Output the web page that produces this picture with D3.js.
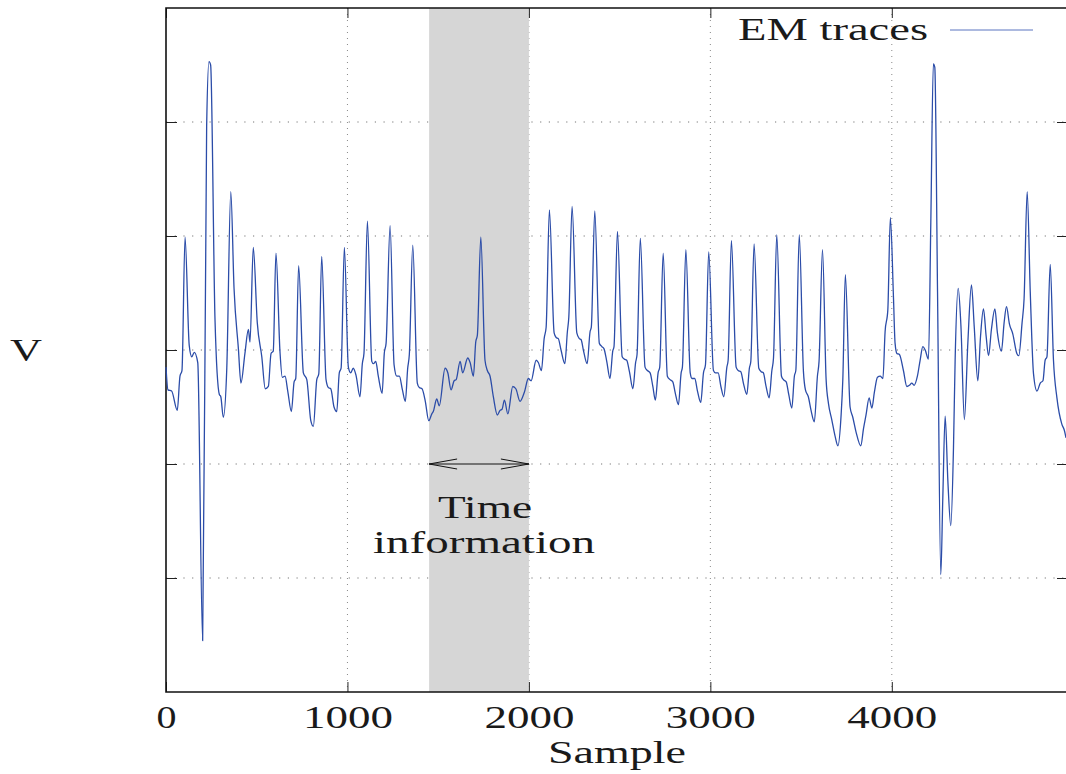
<!DOCTYPE html>
<html>
<head>
<meta charset="utf-8">
<script src="https://cdn.jsdelivr.net/npm/d3@7"></script>
<style>
  body { margin: 0; background: #fff; }
  text { font-family: "Liberation Serif", "Times New Roman", serif; fill: #1a1a1a; }
</style>
</head>
<body>
<script>
// trace samples (sample index, volts)
const sample = [
  0, 11, 31, 62, 77, 88, 105, 128, 142, 156, 175, 202, 224, 237, 246, 270, 294, 302, 316, 335,
  357, 375, 399, 413, 435, 454, 463, 481, 503, 528, 547, 564, 579, 591, 606, 628, 641, 656, 671, 691,
  706, 715, 731, 757, 776, 798, 812, 831, 842, 858, 882, 895, 908, 926, 941, 955, 965, 983, 1005, 1018,
  1032, 1047, 1069, 1082, 1091, 1110, 1134, 1143, 1156, 1170, 1191, 1203, 1213, 1235, 1257, 1272, 1286, 1303, 1319, 1332,
  1341, 1360, 1385, 1396, 1411, 1429, 1448, 1465, 1473, 1492, 1506, 1538, 1553, 1571, 1588, 1599, 1621, 1635, 1663, 1676,
  1694, 1707, 1716, 1735, 1758, 1771, 1786, 1804, 1826, 1841, 1852, 1865, 1884, 1911, 1928, 1951, 1975, 1997, 2012, 2040,
  2052, 2069, 2084, 2095, 2113, 2139, 2150, 2162, 2177, 2198, 2212, 2220, 2238, 2264, 2278, 2288, 2300, 2321, 2337, 2344,
  2363, 2388, 2402, 2414, 2429, 2447, 2462, 2469, 2488, 2514, 2526, 2539, 2554, 2573, 2588, 2596, 2614, 2640, 2653, 2668,
  2683, 2697, 2712, 2721, 2740, 2763, 2778, 2793, 2807, 2824, 2839, 2846, 2865, 2889, 2899, 2914, 2929, 2947, 2962, 2973,
  2991, 3017, 3028, 3043, 3058, 3074, 3091, 3098, 3116, 3142, 3153, 3168, 3182, 3201, 3215, 3223, 3241, 3267, 3280, 3292,
  3307, 3324, 3339, 3348, 3366, 3392, 3403, 3418, 3432, 3449, 3463, 3471, 3490, 3513, 3524, 3540, 3555, 3573, 3590, 3599,
  3618, 3638, 3651, 3669, 3688, 3703, 3721, 3730, 3744, 3770, 3785, 3803, 3829, 3844, 3858, 3875, 3890, 3904, 3921, 3936,
  3951, 3963, 3978, 3992, 4009, 4018, 4028, 4042, 4064, 4083, 4097, 4110, 4123, 4141, 4156, 4171, 4184, 4202, 4215, 4229,
  4237, 4252, 4270, 4281, 4294, 4309, 4325, 4340, 4349, 4366, 4381, 4400, 4419, 4439, 4454, 4474, 4489, 4505, 4520, 4533,
  4549, 4568, 4582, 4604, 4619, 4632, 4648, 4667, 4689, 4700, 4718, 4729, 4746, 4763, 4781, 4800, 4818, 4833, 4845, 4855,
  4873, 4891, 4910, 4937, 4950, 4960
];
const volts = [
  -0.15, -0.35, -0.36, -0.53, -0.23, -0.18, 0.99, 0.04, -0.06, -0.02, -0.11, -2.55, 1.96, 2.53, 2.50, 0.27, -0.39, -0.41, -0.59, -0.16,
  1.39, 0.54, 0.01, -0.29, -0.03, 0.18, 0.07, 0.90, 0.24, -0.06, -0.34, -0.32, -0.03, -0.01, 0.85, -0.01, -0.24, -0.23, -0.36, -0.54,
  -0.28, -0.25, 0.74, -0.20, -0.26, -0.62, -0.67, -0.26, -0.21, 0.82, -0.26, -0.33, -0.34, -0.50, -0.54, -0.20, -0.16, 0.90, -0.15, -0.20,
  -0.16, -0.22, -0.41, -0.12, -0.03, 1.13, -0.10, -0.12, -0.10, -0.23, -0.38, -0.03, 0.06, 1.09, -0.13, -0.23, -0.23, -0.35, -0.45, -0.16,
  -0.04, 0.92, -0.29, -0.33, -0.34, -0.45, -0.62, -0.56, -0.54, -0.43, -0.49, -0.16, -0.20, -0.35, -0.27, -0.26, -0.10, -0.20, -0.07, -0.11,
  -0.23, 0.07, 0.13, 0.99, -0.09, -0.18, -0.23, -0.41, -0.57, -0.53, -0.52, -0.44, -0.56, -0.32, -0.34, -0.45, -0.37, -0.25, -0.27, -0.09,
  -0.11, -0.18, 0.10, 0.20, 1.23, 0.15, 0.11, 0.10, 0.00, -0.12, 0.16, 0.29, 1.26, 0.15, 0.10, 0.09, 0.00, -0.12, 0.16, 0.20,
  1.22, 0.06, 0.03, 0.01, -0.10, -0.25, -0.01, 0.03, 1.04, -0.06, -0.08, -0.09, -0.19, -0.34, -0.11, -0.04, 0.98, -0.15, -0.18, -0.20,
  -0.32, -0.44, -0.20, -0.15, 0.85, -0.23, -0.26, -0.28, -0.38, -0.48, -0.20, -0.15, 0.88, -0.20, -0.25, -0.25, -0.36, -0.46, -0.20, -0.13,
  0.86, -0.18, -0.20, -0.20, -0.32, -0.41, -0.15, -0.09, 0.96, -0.15, -0.18, -0.19, -0.29, -0.39, -0.16, -0.10, 0.93, -0.16, -0.19, -0.20,
  -0.32, -0.42, -0.18, -0.07, 1.01, -0.23, -0.26, -0.28, -0.39, -0.51, -0.23, -0.18, 1.01, -0.19, -0.35, -0.41, -0.53, -0.63, -0.23, -0.10,
  0.88, -0.26, -0.47, -0.61, -0.76, -0.84, -0.56, -0.26, 0.66, -0.50, -0.59, -0.72, -0.84, -0.69, -0.57, -0.42, -0.51, -0.37, -0.24, -0.23,
  -0.25, 0.16, 0.35, 1.16, 0.47, 0.06, -0.03, -0.04, -0.18, -0.32, -0.31, -0.29, -0.31, -0.23, -0.09, 0.03, 0.00, -0.08, 1.12, 2.51,
  2.48, 0.51, -1.97, -1.30, -0.58, -1.15, -1.54, -0.85, -0.09, 0.54, 0.21, -0.61, 0.06, 0.57, 0.21, -0.27, 0.12, 0.36, 0.12, -0.05,
  0.18, 0.36, 0.15, -0.01, 0.24, 0.38, 0.23, 0.14, -0.03, -0.05, 0.24, 0.45, 1.39, 0.51, -0.21, -0.36, -0.29, -0.27, -0.09, -0.06,
  0.75, -0.09, -0.42, -0.65, -0.70, -0.77
];
const xTicks = [0, 1000, 2000, 3000, 4000];
const yTicks = [-2, -1, 0, 1, 2];
const timeWindow = [1450, 2000];
const seriesName = "EM traces";

// plot frame
let margin = {top: 8, right: 0, bottom: 82, left: 166};
let width = 1066 - margin.left - margin.right;
let height = 774 - margin.top - margin.bottom;

let svg = d3.select("body")
  .append("svg")
  .attr("width", 1066)
  .attr("height", 774);

let g = svg.append("g")
  .attr("transform", "translate(" + margin.left + "," + margin.top + ")");

let x = d3.scaleLinear().domain([0, 4960]).range([0, width]);
let y = d3.scaleLinear().domain([-3, 3]).range([height, 0]);

// grid
g.selectAll(".hgrid")
  .data(yTicks)
  .enter()
  .append("line")
  .attr("x1", 0).attr("x2", width)
  .attr("y1", (d) => y(d)).attr("y2", (d) => y(d))
  .attr("stroke", "#777")
  .attr("stroke-width", 1.2)
  .attr("stroke-dasharray", "1.2,7.5");

g.selectAll(".vgrid")
  .data(xTicks.filter((d) => d > 0))
  .enter()
  .append("line")
  .attr("x1", (d) => x(d)).attr("x2", (d) => x(d))
  .attr("y1", 0).attr("y2", height)
  .attr("stroke", "#888")
  .attr("stroke-width", 1)
  .attr("stroke-dasharray", "1,5");

// shaded time window
g.append("rect")
  .attr("x", x(timeWindow[0]))
  .attr("y", 0)
  .attr("width", x(timeWindow[1]) - x(timeWindow[0]))
  .attr("height", height)
  .attr("fill", "#d6d6d6");

// axes: ticks pointing inward on all four sides
let xAxis = g.append("g")
  .attr("transform", "translate(0," + height + ")")
  .call(d3.axisBottom(x).tickValues(xTicks).tickSize(-10).tickPadding(13).tickFormat(d3.format("d")));
xAxis.selectAll("text")
  .style("font-family", "Liberation Serif")
  .style("font-size", "32px")
  .attr("fill", "#1a1a1a")
  .attr("textLength", (d) => d === 0 ? 20 : 90)
  .attr("lengthAdjust", "spacingAndGlyphs");

g.append("g")
  .call(d3.axisTop(x).tickValues(xTicks).tickSize(-10).tickFormat(""));
g.append("g")
  .call(d3.axisLeft(y).tickValues(yTicks).tickSize(-11).tickFormat(""));
g.append("g")
  .attr("transform", "translate(" + width + ",0)")
  .call(d3.axisRight(y).tickValues(yTicks).tickSize(-9).tickFormat(""));

g.selectAll(".domain").remove();
g.selectAll(".tick line").attr("stroke", "#222").attr("stroke-width", 1);

// border
g.append("path")
  .attr("d", "M" + width + ",0H0V" + height + "H" + width)
  .attr("fill", "none")
  .attr("stroke", "#111")
  .attr("stroke-width", 1.6);

// trace
let line = d3.line()
  .x((d) => x(d[0]))
  .y((d) => y(d[1]))
  .curve(d3.curveMonotoneX);

g.append("path")
  .datum(sample.map((s, i) => [s, volts[i]]))
  .attr("d", line)
  .attr("fill", "none")
  .attr("stroke", "#2b4ca8")
  .attr("stroke-width", 1.3)
  .attr("stroke-linejoin", "round");

// double arrow over the window
let ay = y(-1);
let ax0 = x(timeWindow[0]), ax1 = x(timeWindow[1]);
g.append("path")
  .attr("d", "M" + ax0 + "," + ay + "H" + ax1
    + "M" + (ax0 + 28) + "," + (ay - 5) + "L" + ax0 + "," + ay + "L" + (ax0 + 28) + "," + (ay + 5)
    + "M" + (ax1 - 28) + "," + (ay - 5) + "L" + ax1 + "," + ay + "L" + (ax1 - 28) + "," + (ay + 5))
  .attr("fill", "none")
  .attr("stroke", "#111")
  .attr("stroke-width", 1);

// labels
function label(txt, cx, by, len, anchor, size) {
  svg.append("text")
    .attr("x", cx)
    .attr("y", by)
    .attr("text-anchor", anchor || "middle")
    .attr("font-size", size || 32)
    .attr("textLength", len)
    .attr("lengthAdjust", "spacingAndGlyphs")
    .text(txt);
}

// two-line annotation under the arrow
label("Time", 485, 518, 94, "middle", 31);
label("information", 484, 553, 222, "middle", 31);

label("Sample", 617, 763, 138);
label("V", 26, 361, 32);
label(seriesName, 928, 40, 190, "end");

// legend sample line
svg.append("line")
  .attr("x1", 950).attr("x2", 1033)
  .attr("y1", 30).attr("y2", 30)
  .attr("stroke", "#5a74c0")
  .attr("stroke-width", 1);
</script>
</body>
</html>
